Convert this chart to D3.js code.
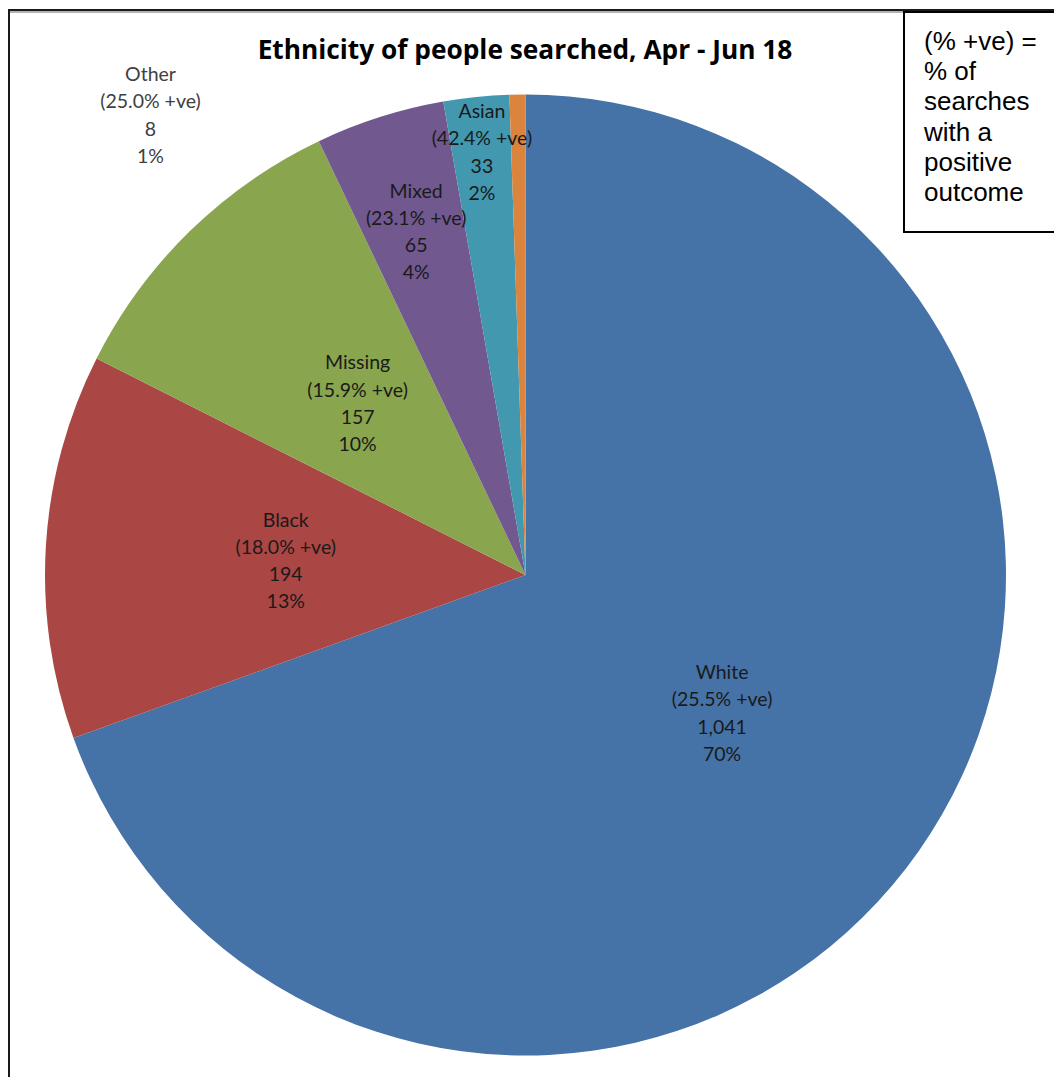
<!DOCTYPE html>
<html>
<head>
<meta charset="utf-8">
<script src="https://cdn.jsdelivr.net/npm/d3@7"></script>
<style>
  html, body { margin: 0; padding: 0; background: #fff; }
  svg { display: block; }
</style>
</head>
<body>
<svg id="chart" width="1054" height="1077"></svg>
<script>
// Stop-and-search counts by ethnicity, April - June 2018
const categories = ["White", "Black", "Missing", "Mixed", "Asian", "Other"];
const searches = [1041, 194, 157, 65, 33, 8];
const positiveRates = ["25.5%", "18.0%", "15.9%", "23.1%", "42.4%", "25.0%"];
const shareLabels = ["70%", "13%", "10%", "4%", "2%", "1%"];
const sliceColors = ["#4572A7", "#AA4643", "#89A54E", "#71588F", "#4198AF", "#DB843D"];
const noteLines = ["(% +ve) =", "% of", "searches", "with a", "positive", "outcome"];

const svg = d3.select("#chart");
const W = 1054, H = 1077;
const cx = 525.5, cy = 575, R = 480.5;
const titleFont = "'Open Sans', Lato, sans-serif";
const labelFont = "Lato, 'Open Sans', sans-serif";

// chart frame
svg.append("rect").attr("x", 9).attr("y", 10).attr("width", W + 20).attr("height", H + 20)
  .attr("fill", "#fff").attr("stroke", "#1a1a1a").attr("stroke-width", 2);
svg.append("line").attr("x1", 10).attr("x2", W).attr("y1", 12).attr("y2", 12)
  .attr("stroke", "#9a9a9a").attr("stroke-width", 1.5);

// title, sized to span its slot
const title = svg.append("text")
  .attr("x", 525).attr("y", 59)
  .attr("text-anchor", "middle")
  .attr("font-family", titleFont)
  .attr("font-weight", "bold")
  .attr("font-size", 23)
  .attr("fill", "#000")
  .text("Ethnicity of people searched, Apr - Jun 18");
const tw = title.node().getComputedTextLength();
if (tw > 0) title.attr("font-size", 23 * 535 / tw);

// pie, starting at 12 o'clock and running clockwise in data order
const pie = d3.pie().value(d => d).sort(null);
const arcs = pie(searches);
const arc = d3.arc().innerRadius(0).outerRadius(R);

const g = svg.append("g").attr("transform", `translate(${cx},${cy})`);
g.selectAll("path.slice")
  .data(arcs)
  .join("path")
  .attr("class", "slice")
  .attr("d", arc)
  .attr("fill", (d, i) => sliceColors[i]);

// label placement: fraction of radius along the slice bisector,
// thin slices get pushed outward; the smallest one sits outside the pie
const labelRadius = [0.5, 0.5, 0.5, 0.75, 0.885, null];
const fmt = d3.format(",");
const lineGap = 27.2;

arcs.forEach((a, i) => {
  let x, y;
  if (labelRadius[i] !== null) {
    const mid = (a.startAngle + a.endAngle) / 2;
    const r = R * labelRadius[i];
    x = Math.sin(mid) * r;
    y = -Math.cos(mid) * r;
  } else {
    x = -375;
    y = -460;
  }
  const lines = [categories[i], `(${positiveRates[i]} +ve)`, fmt(searches[i]), shareLabels[i]];
  const t = g.append("text")
    .attr("text-anchor", "middle")
    .attr("font-family", labelFont)
    .attr("font-size", 19.5)
    .attr("fill", i === 5 ? "#404040" : "#1a1a1a");
  lines.forEach((s, k) => {
    t.append("tspan")
      .attr("x", x)
      .attr("y", y + (k - 1.5) * lineGap + 7)
      .text(s);
  });
});

// explanatory note box
const note = svg.append("g");
note.append("rect").attr("x", 904).attr("y", 12).attr("width", 200).attr("height", 220)
  .attr("fill", "#fff").attr("stroke", "#000").attr("stroke-width", 2);
const nt = note.append("text")
  .attr("font-family", "'Liberation Sans', Arial, sans-serif")
  .attr("font-size", 26)
  .attr("fill", "#000");
noteLines.forEach((s, k) => {
  nt.append("tspan").attr("x", 924).attr("y", 50 + k * 30.2).text(s);
});
</script>
</body>
</html>
